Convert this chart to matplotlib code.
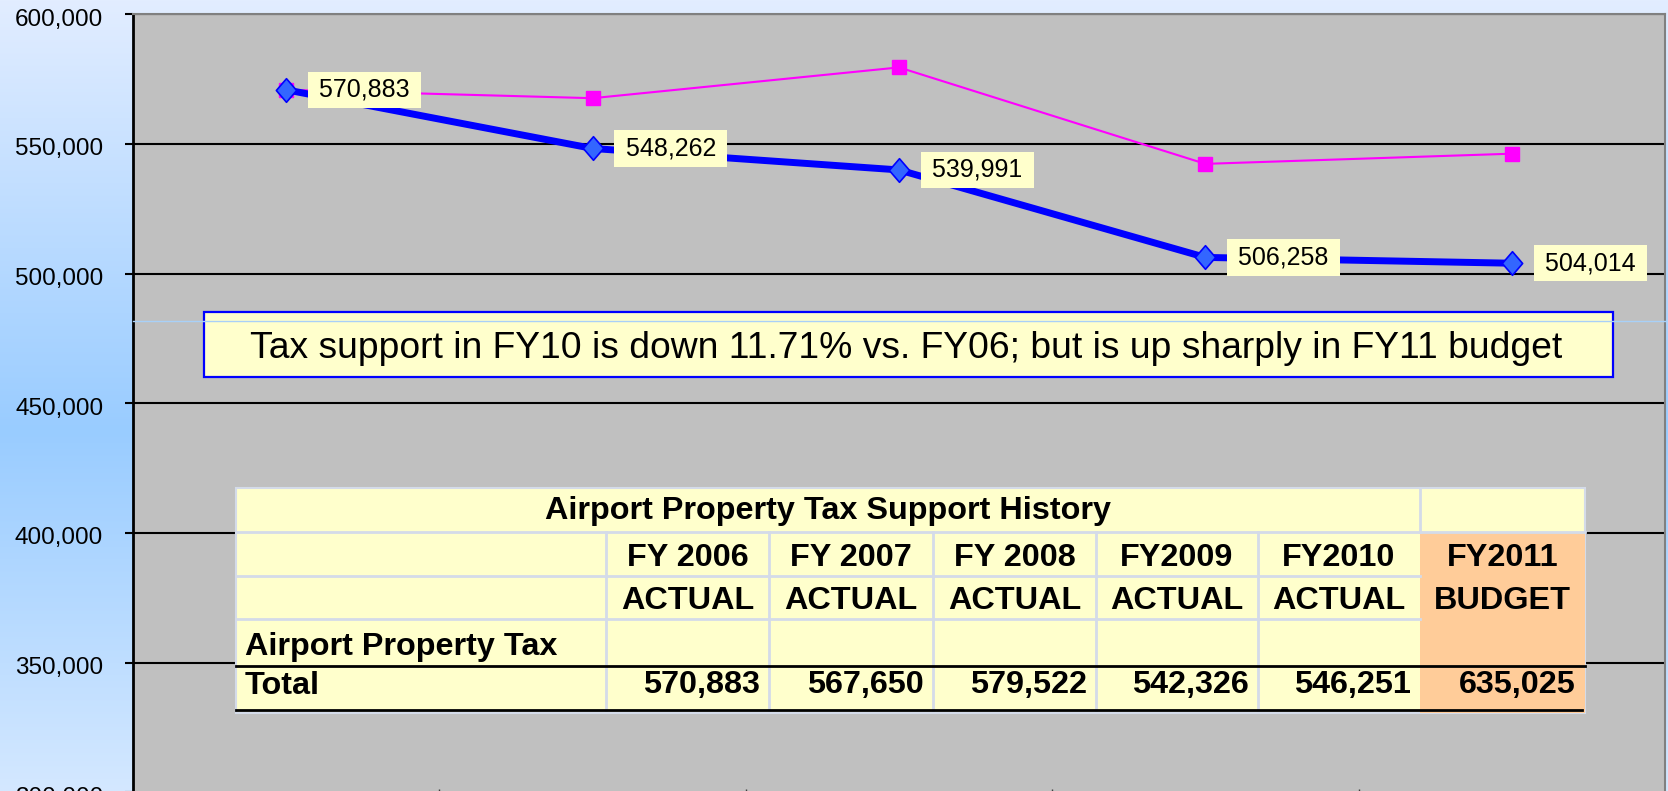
import matplotlib
matplotlib.use("Agg")
import matplotlib.pyplot as plt
from matplotlib.patches import Rectangle
from matplotlib.lines import Line2D
from matplotlib.path import Path
from matplotlib.transforms import Affine2D, ScaledTranslation
from matplotlib.ticker import StrMethodFormatter
import numpy as np

plt.rcParams['font.family'] = ['Liberation Sans', 'DejaVu Sans']

# ---------------------------------------------------
# Data
# ---------------------------------------------------
tax_support = [570883, 548262, 539991, 506258, 504014]
table_title = "Airport Property Tax Support History"
fiscal_years = ["FY 2006", "FY 2007", "FY 2008", "FY2009", "FY2010", "FY2011"]
year_status = ["ACTUAL", "ACTUAL", "ACTUAL", "ACTUAL", "ACTUAL", "BUDGET"]
row_labels = ["Airport Property Tax", "Total"]
tax_totals = [570883, 567650, 579522, 542326, 546251, 635025]
note_text = "Tax support in FY10 is down 11.71% vs. FY06; but is up sharply in FY11 budget"
y_ticks = [300000, 350000, 400000, 450000, 500000, 550000, 600000]

W, H = 1668, 791
fig = plt.figure(figsize=(W / 100, H / 100), dpi=100)

# pixel coords measured from the top-left corner
tp = Affine2D().scale(1 / W, -1 / H).translate(0, 1) + fig.transFigure

# background gradient
bg = fig.add_axes([0, 0, 1, 1])
bg.axis('off')
stop_y = [0, 430, 791]
stop_c = [(226, 237, 255), (153, 204, 255), (212, 232, 255)]
rows = np.arange(H)
grad = np.stack([np.interp(rows, stop_y, [c[i] for c in stop_c]) for i in range(3)], axis=-1) / 255
bg.imshow(grad[:, None, :], aspect='auto', extent=[0, 1, 0, 1])

# main plot area
ax = fig.add_axes([133 / W, 1 - 792.3 / H, (1665 - 133) / W, (792.3 - 14.3) / H])
ax.set_facecolor('#c0c0c0')
ax.set_xlim(-0.5, len(tax_support) - 0.5)
ax.set_ylim(y_ticks[0], y_ticks[-1])
ax.set_yticks(y_ticks)
ax.yaxis.set_major_formatter(StrMethodFormatter('{x:,.0f}'))
ax.tick_params(axis='y', length=6, width=1.5, pad=15.5, labelsize=17.5, color='black')
for lab in ax.get_yticklabels():
    lab.set_transform(lab.get_transform() + ScaledTranslation(0, -3 / 100, fig.dpi_scale_trans))
ax.set_xticks(np.arange(len(tax_support) - 1) + 0.5)
ax.set_xticklabels([])
ax.tick_params(axis='x', direction='in', length=2.5, width=1, color='#404040')
ax.yaxis.grid(True, color='black', linewidth=1.5)
ax.set_axisbelow(True)
ax.spines['left'].set_linewidth(2)
ax.spines['left'].set_color('black')
ax.spines['bottom'].set_linewidth(1.5)
ax.spines['bottom'].set_color('#303030')
for s in ['top', 'right']:
    ax.spines[s].set_color('#808080')
    ax.spines[s].set_linewidth(1.5)

xs = np.arange(len(tax_support))

# thin magenta series = table totals
ax.plot(xs, tax_totals[:len(xs)], color='#ff00ff', linewidth=1.5, marker='s',
        markersize=10.5, markerfacecolor='#ff00ff', markeredgecolor='#ff00ff', zorder=2.5)

# thick blue series with diamond markers
diamond = Path([(0, 1), (0.86, 0), (0, -1), (-0.86, 0), (0, 1)],
               [Path.MOVETO, Path.LINETO, Path.LINETO, Path.LINETO, Path.CLOSEPOLY])
ax.plot(xs, tax_support, color='#0000ff', linewidth=5, marker=diamond, markersize=17,
        markerfacecolor='#3366ff', markeredgecolor='#0000ff', markeredgewidth=1.2, zorder=3)

for x, v in zip(xs, tax_support):
    ax.annotate("\u2009" + f"{v:,}" + "\u2009", (x, v), xytext=(28, 0), textcoords='offset pixels',
                ha='left', va='center', fontsize=18, zorder=5,
                bbox=dict(boxstyle='square,pad=0.25', fc='#ffffcc', ec='none'))

# faint light-blue line behind the note box
fig.add_artist(Line2D([133, 1665], [320.7, 320.7], transform=tp, color='#a8d0f8', linewidth=1))

# note box
fig.add_artist(Rectangle((204, 312), 1613 - 204, 377 - 312, transform=tp,
                         facecolor='#ffffcc', edgecolor='#0000ff', linewidth=1.6))
fig.text(906, 348, note_text, transform=tp, ha='center', va='center', fontsize=26.8)

# ---------------------------------------------------
# Table
# ---------------------------------------------------
col_x = [236, 606, 769, 933, 1096, 1258, 1420, 1585]
row_y = [488, 532, 576, 619, 666, 710, 713]
border = '#d4dbe9'
tfs = 23.3

fig.add_artist(Rectangle((col_x[0], row_y[0]), col_x[-1] - col_x[0], row_y[-1] - row_y[0],
                         transform=tp, facecolor='#ffffcc', edgecolor=border, linewidth=1.5))
# light grid lines
for y in row_y[1:4]:
    fig.add_artist(Line2D([col_x[0], col_x[-2]], [y, y], transform=tp, color=border, linewidth=2))
fig.add_artist(Line2D([col_x[-2], col_x[-1]], [row_y[1], row_y[1]], transform=tp, color=border, linewidth=2))
fig.add_artist(Line2D([col_x[-2], col_x[-2]], [row_y[0], row_y[1]], transform=tp, color=border, linewidth=2))
for x in col_x[1:-2]:
    fig.add_artist(Line2D([x, x], [row_y[1], row_y[5]], transform=tp, color=border, linewidth=2))
# budget column
fig.add_artist(Rectangle((col_x[-2], row_y[1] + 1), col_x[-1] - col_x[-2], row_y[-1] - row_y[1] - 1,
                         transform=tp, facecolor='#ffcc99', edgecolor='none'))
# black rules around the Total row
fig.add_artist(Line2D([col_x[0], col_x[-1]], [row_y[4], row_y[4]], transform=tp, color='black', linewidth=2))
fig.add_artist(Line2D([col_x[0], col_x[-1] - 3], [row_y[5], row_y[5]], transform=tp, color='black', linewidth=2))

fig.text((col_x[0] + col_x[-2]) / 2, 511, table_title, transform=tp, ha='center', va='center',
         fontsize=tfs, fontweight='bold')
for i in range(len(fiscal_years)):
    cx = (col_x[i + 1] + col_x[i + 2]) / 2
    fig.text(cx, 557.5, fiscal_years[i], transform=tp, ha='center', va='center', fontsize=tfs, fontweight='bold')
    fig.text(cx, 601, year_status[i], transform=tp, ha='center', va='center', fontsize=tfs, fontweight='bold')
    fig.text(col_x[i + 2] - 9, 685.5, f"{tax_totals[i]:,}", transform=tp, ha='right', va='center',
             fontsize=tfs, fontweight='bold')
fig.text(245, 647, row_labels[0], transform=tp, ha='left', va='center', fontsize=tfs, fontweight='bold')
fig.text(245, 685.5, row_labels[1], transform=tp, ha='left', va='center', fontsize=tfs, fontweight='bold')

fig.savefig('out.png', dpi=100)
